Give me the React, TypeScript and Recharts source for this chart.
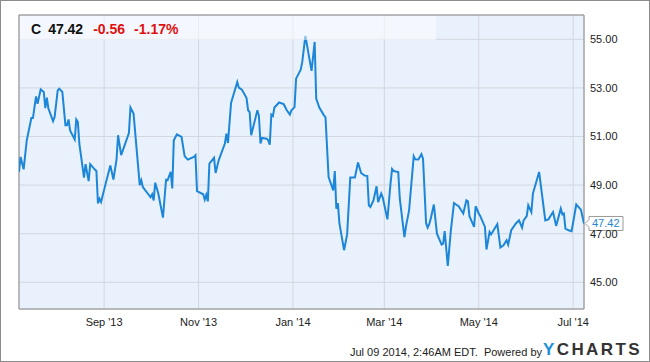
import React from 'react';
import {
  LineChart,
  Line,
  XAxis,
  YAxis,
  CartesianGrid,
  ReferenceArea,
  ReferenceDot,
} from 'recharts';

// Trading series for C (days since 2013-07-08)
const START_DATE = '2013-07-08';
const END_DATE = '2014-07-08';

const dayOffsets = [
  0, 1, 3, 5, 8, 9, 11, 12, 14, 16,
  17, 18, 19, 22, 23, 25, 26, 28, 30, 31,
  32, 33, 36, 37, 38, 39, 42, 43, 45, 46,
  49, 50, 51, 52, 53, 56, 59, 61, 63, 64,
  66, 71, 72, 74, 78, 79, 80, 85, 86, 87,
  88, 90, 93, 95, 96, 98, 99, 100, 102, 105,
  107, 109, 113, 114, 115, 119, 120, 121, 122, 123,
  126, 127, 129, 133, 134, 135, 137, 141, 142, 144,
  147, 148, 149, 150, 154, 155, 156, 157, 160, 161,
  162, 163, 164, 165, 168, 171, 173, 175, 176, 178,
  179, 182, 183, 185, 189, 191, 192, 194, 197, 198,
  200, 203, 204, 205, 206, 207, 210, 212, 214, 217,
  219, 221, 223, 225, 226, 227, 229, 231, 232, 234,
  235, 238, 240, 241, 242, 245, 246, 249, 250, 252,
  255, 256, 258, 260, 261, 263, 264, 265, 266, 268,
  270, 273, 274, 275, 277, 279, 281, 283, 284, 287,
  289, 290, 291, 294, 295, 297, 298, 301, 302, 304,
  305, 307, 309, 311, 313, 315, 316, 318, 321, 323,
  325, 326, 328, 329, 331, 332, 336, 340, 342, 345,
  347, 350, 351, 352, 353, 355, 357, 360, 363, 365,
];

const prices = [
  49.54, 50.16, 49.65, 50.84, 51.76, 51.76, 52.65, 52.35, 52.94, 52.83,
  52.17, 52.6, 52.15, 51.63, 51.8, 52.9, 52.97, 52.83, 51.46, 51.46,
  51.7, 51.25, 50.88, 51.7, 51.6, 50.7, 49.31, 49.86, 49.16, 49.86,
  49.64, 49.58, 48.24, 48.44, 48.3, 49.06, 49.81, 49.23, 50.05, 51.05,
  50.23, 51.14, 52.19, 51.94, 49.0, 49.2, 48.92, 48.5, 48.62, 48.37,
  49.1, 48.65, 47.66, 49.22, 49.2, 49.54, 48.86, 50.84, 51.09, 50.98,
  50.19, 50.05, 50.16, 50.23, 48.75, 48.62, 48.4, 48.6, 48.33, 49.88,
  50.12, 49.5, 50.02, 50.71, 51.12, 50.73, 52.38, 53.24, 53.01, 52.93,
  52.58, 52.08, 52.0, 51.05, 52.08, 51.84, 50.71, 50.94, 50.91, 50.84,
  50.66, 51.9, 51.84, 52.19, 52.4, 52.33, 52.08, 51.9, 52.08, 52.21,
  53.38, 53.75, 54.07, 55.14, 53.7, 54.89, 52.56, 52.19, 51.87, 51.8,
  49.33, 48.78, 49.58, 48.03, 48.26, 47.42, 46.32, 46.98, 49.31, 49.31,
  49.93, 49.5, 49.4, 49.37, 48.17, 48.1, 48.37, 48.95, 48.3, 48.65,
  48.49, 47.59, 49.06, 49.66, 49.58, 49.54, 48.44, 46.86, 47.3, 47.96,
  50.19, 50.06, 50.05, 50.27, 50.09, 47.42, 47.25, 47.39, 47.62, 48.2,
  47.0, 46.55, 46.59, 47.11, 45.67, 47.14, 48.26, 48.17, 48.13, 47.83,
  48.37, 48.33, 47.72, 47.28, 48.13, 47.83, 47.72, 47.28, 46.35, 47.07,
  46.97, 47.18, 47.39, 46.43, 46.52, 46.73, 46.55, 47.14, 47.42, 47.55,
  47.25, 47.55, 47.72, 48.17, 47.89, 48.65, 49.54, 47.55, 47.59, 47.89,
  47.32, 48.03, 47.8, 47.83, 47.21, 47.14, 47.1, 48.2, 47.99, 47.42,
];

const xTickDates = ['2013-09-01', '2013-11-01', '2014-01-01', '2014-03-01', '2014-05-01', '2014-07-01'];
const xTickLabels = ["Sep '13", "Nov '13", "Jan '14", "Mar '14", "May '14", "Jul '14"];
const yTicks = [45, 47, 49, 51, 53, 55];
const yDomain = [43.9, 56.0];

const ticker = 'C';
const lastPrice = '47.42';
const change = '-0.56';
const changePct = '-1.17%';
const footerText = 'Jul 09 2014, 2:46AM EDT.\u00a0 Powered by';

const DAY = 86400000;
const toTs = (s: string) => Date.parse(s + 'T00:00:00Z');
const START = toTs(START_DATE);
const END = toTs(END_DATE);
const data = dayOffsets.map((d, i) => ({ t: START + d * DAY, price: prices[i] }));
const xTicks = xTickDates.map(toTs);
const labelFor = (v: number) => {
  const i = xTicks.indexOf(v);
  return i >= 0 ? xTickLabels[i] : '';
};
const last = data[data.length - 1];

const FONT = '"Liberation Sans", Arial, Helvetica, sans-serif';
const LINE_COLOR = '#1c86d8';

const LastLabel = (props: any) => {
  const { cx, cy } = props;
  if (cx == null || cy == null) return null;
  const pts = [
    [cx + 1, cy],
    [cx + 5, cy - 4],
    [cx + 5, cy - 7],
    [cx + 39, cy - 7],
    [cx + 39, cy + 7],
    [cx + 5, cy + 7],
    [cx + 5, cy + 4],
  ]
    .map((p) => p.join(','))
    .join(' ');
  return (
    <g>
      <polygon points={pts} fill="#ffffff" stroke="#9a9a9a" strokeWidth={1} />
      <text x={cx + 8} y={cy} dy="0.36em" fontSize={11} fontFamily={FONT} fill="#2a86d2">
        {lastPrice}
      </text>
    </g>
  );
};

export default function App() {
  return (
    <div
      style={{
        position: 'absolute',
        left: 0,
        top: 0,
        width: 650,
        height: 362,
        background: '#ffffff',
        overflow: 'hidden',
        fontFamily: FONT,
      }}
    >
      <LineChart
        width={650}
        height={362}
        data={data}
        margin={{ top: 15, right: 16, bottom: 23, left: 19 }}
      >
        <CartesianGrid stroke="#d3d7de" fill="#e9f1fc" />
        <XAxis
          dataKey="t"
          type="number"
          domain={[START, END]}
          ticks={xTicks}
          tickFormatter={labelFor}
          interval={0}
          allowDataOverflow
          height={30}
          tickSize={0}
          tickMargin={9}
          axisLine={false}
          tick={{ fontSize: 11, fill: '#222', fontFamily: FONT }}
        />
        <YAxis
          orientation="right"
          domain={yDomain}
          ticks={yTicks}
          interval={0}
          allowDataOverflow
          width={50}
          tickSize={0}
          tickMargin={6}
          axisLine={false}
          tickFormatter={(v: number) => v.toFixed(2)}
          tick={{ fontSize: 11, fill: '#222', fontFamily: FONT }}
        />
        <Line
          type="linear"
          dataKey="price"
          stroke={LINE_COLOR}
          strokeWidth={2}
          dot={false}
          activeDot={false}
          isAnimationActive={false}
        />
        <ReferenceArea
          x1={START}
          x2={END}
          y1={yDomain[0]}
          y2={yDomain[1]}
          fill="none"
          stroke="#8a8a8a"
          strokeWidth={1}
          ifOverflow="visible"
        />
        <ReferenceDot x={last.t} y={last.price} r={0} ifOverflow="visible" shape={LastLabel} />
      </LineChart>

      {/* header band */}
      <div
        style={{
          position: 'absolute',
          left: 20,
          top: 16,
          width: 416,
          height: 24,
          background: 'rgba(255,255,255,0.5)',
        }}
      />
      <div
        style={{
          position: 'absolute',
          left: 31,
          top: 20,
          height: 18,
          lineHeight: '18px',
          fontSize: 14,
          fontWeight: 'bold',
          whiteSpace: 'nowrap',
        }}
      >
        <span style={{ color: '#111' }}>{ticker}</span>
        <span style={{ color: '#111', marginLeft: 7 }}>{lastPrice}</span>
        <span style={{ color: '#e01010', marginLeft: 10 }}>{change}</span>
        <span style={{ color: '#e01010', marginLeft: 9 }}>{changePct}</span>
      </div>

      {/* footer */}
      <div
        style={{
          position: 'absolute',
          left: 350,
          top: 346,
          fontSize: 11,
          lineHeight: '13px',
          color: '#222',
          whiteSpace: 'nowrap',
        }}
      >
        {footerText}
      </div>
      <div
        style={{
          position: 'absolute',
          left: 543,
          top: 340,
          fontSize: 17,
          lineHeight: '20px',
          fontWeight: 'bold',
          letterSpacing: 2.4,
          whiteSpace: 'nowrap',
        }}
      >
        <span style={{ color: '#1e8fd6' }}>Y</span>
        <span style={{ color: '#333' }}>CHARTS</span>
      </div>

      {/* outer frame */}
      <div
        style={{
          position: 'absolute',
          left: 0,
          top: 0,
          width: 650,
          height: 362,
          boxSizing: 'border-box',
          border: '1px solid #8c8c8c',
          pointerEvents: 'none',
        }}
      />
    </div>
  );
}
